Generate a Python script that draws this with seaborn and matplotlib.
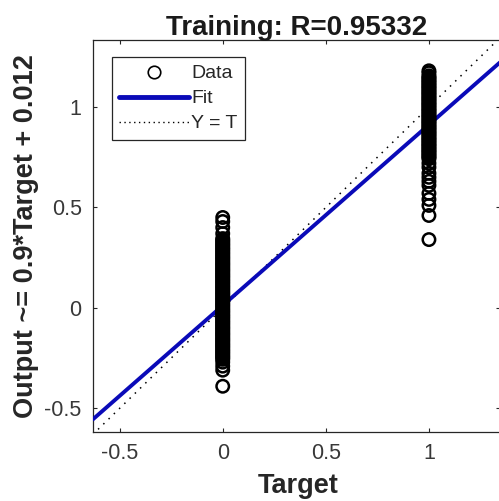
import matplotlib
matplotlib.use("Agg")
import matplotlib.pyplot as plt
import seaborn as sns
import numpy as np
import pandas as pd
from matplotlib.lines import Line2D

# ---- data ----
target0 = [0.45, 0.43, 0.40, 0.37, 0.345, 0.338, 0.331, 0.323, 0.316, 0.309, 0.301, 0.294,
           0.288, 0.280, 0.273, 0.266, 0.258, 0.251, 0.244, 0.237, 0.229, 0.222, 0.215, 0.208,
           0.200, 0.193, 0.186, 0.179, 0.171, 0.164, 0.157, 0.150, 0.142, 0.135, 0.128, 0.121,
           0.113, 0.106, 0.099, 0.092, 0.084, 0.077, 0.070, 0.063, 0.055, 0.048, 0.041, 0.034,
           0.026, 0.019, 0.012, 0.005, -0.003, -0.010, -0.017, -0.024, -0.032, -0.039, -0.046,
           -0.053, -0.061, -0.068, -0.075, -0.082, -0.090, -0.097, -0.104, -0.111, -0.119,
           -0.126, -0.133, -0.140, -0.148, -0.155, -0.162, -0.169, -0.177, -0.184, -0.191,
           -0.198, -0.206, -0.213, -0.220, -0.227, -0.235, -0.242, -0.249, -0.256, -0.27,
           -0.29, -0.31, -0.39]
target1 = [1.18, 1.17, 1.155, 1.148, 1.141, 1.133, 1.126, 1.119, 1.111, 1.104, 1.097, 1.090,
           1.082, 1.075, 1.068, 1.061, 1.053, 1.046, 1.039, 1.032, 1.024, 1.017, 1.010, 1.003,
           0.995, 0.988, 0.981, 0.974, 0.966, 0.959, 0.952, 0.945, 0.937, 0.930, 0.923, 0.916,
           0.908, 0.901, 0.894, 0.887, 0.879, 0.872, 0.865, 0.858, 0.850, 0.843, 0.836, 0.829,
           0.821, 0.814, 0.807, 0.800, 0.792, 0.785, 0.778, 0.771, 0.763, 0.756, 0.749, 0.742,
           0.72, 0.70, 0.67, 0.65, 0.63, 0.61, 0.57, 0.54, 0.51, 0.46, 0.34]
fit_slope = 0.9
fit_intercept = 0.012
r_value = "0.95332"
x_ticks = [-0.5, 0, 0.5, 1]
y_ticks = [-0.5, 0, 0.5, 1]
x_limits = (-0.63, 1.347)
y_limits = (-0.617, 1.333)

df = pd.DataFrame({
    "Target": [0.0] * len(target0) + [1.0] * len(target1),
    "Output": target0 + target1,
})

sns.set_style("ticks")
plt.rcParams["font.family"] = ["Liberation Sans", "DejaVu Sans"]

fig = plt.figure(figsize=(4.99, 5.01), dpi=100)
ax = fig.add_axes([0.186, 0.138, 0.817, 0.782])

ax.set_xlim(*x_limits)
ax.set_ylim(*y_limits)

# Y = T
xs = np.array(x_limits)
ax.plot(xs, xs, color="black", linestyle=(0, (1, 3.8)), linewidth=1.1, zorder=2)
# Fit
ax.plot(xs, fit_slope * xs + fit_intercept, color="#0a0ab8", linewidth=2.8, zorder=3)

sns.scatterplot(data=df, x="Target", y="Output", ax=ax, marker="o", s=80,
                facecolors="none", edgecolor="black", linewidth=1.8, zorder=4, legend=False)

ax.set_xticks(x_ticks)
ax.set_yticks(y_ticks)
ax.set_xticklabels(["-0.5", "0", "0.5", "1"])
ax.set_yticklabels(["-0.5", "0", "0.5", "1"])
ax.tick_params(direction="in", top=True, right=True, length=3, width=0.8,
               labelsize=15.5, colors="#262626", labelcolor="#383838", pad=8)
for sp in ax.spines.values():
    sp.set_color("#262626")
    sp.set_linewidth(0.9)

ax.set_title(f"Training: R={r_value}", fontsize=20, fontweight="bold", color="#1a1a1a", pad=4)
ax.set_xlabel("Target", fontsize=19.5, fontweight="bold", color="#262626")
ax.set_ylabel(f"Output ~= {fit_slope}*Target + {fit_intercept}", fontsize=19.5,
              fontweight="bold", color="#262626")
ax.xaxis.set_label_coords(0.503, -0.105)
ax.yaxis.set_label_coords(-0.133, 0.5)

handles = [
    Line2D([], [], marker="o", linestyle="none", markerfacecolor="none",
           markeredgecolor="black", markersize=9, markeredgewidth=1.2, label="Data"),
    Line2D([], [], color="#0a0ab8", linewidth=3.5, label="Fit"),
    Line2D([], [], color="black", linestyle=(0, (1, 2.5)), linewidth=1, label="Y = T"),
]
leg = ax.legend(handles=handles, loc="upper left", bbox_to_anchor=(0.046, 0.957),
                fontsize=14, frameon=True, fancybox=False, framealpha=1,
                edgecolor="#262626", handlelength=3.6, borderpad=0.4, labelspacing=0.38,
                handletextpad=0.1, borderaxespad=0)
leg.get_frame().set_linewidth(0.9)

fig.savefig("out.png", dpi=100)
